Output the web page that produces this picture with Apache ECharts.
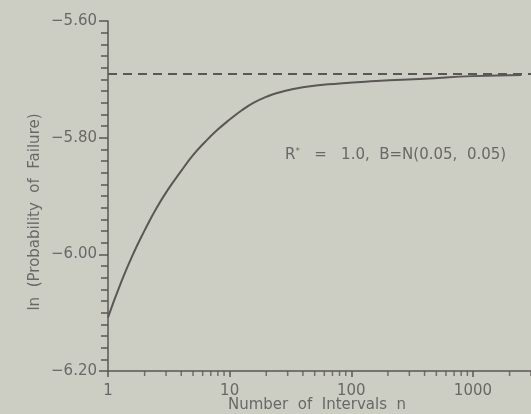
<!DOCTYPE html>
<html>
<head>
<meta charset="utf-8">
<script src="https://cdn.jsdelivr.net/npm/echarts@6/dist/echarts.min.js"></script>
<style>
html,body{margin:0;padding:0;background:#cdcec3;}
#chart{width:531px;height:414px;}
</style>
</head>
<body>
<div id="chart"></div>
<script>
// Data
var nValues = [1, 1.26, 1.58, 2, 2.5, 3.16, 4, 5, 6.3, 7.9, 10, 12.6, 15.8, 20, 25, 40, 80, 160, 400, 1000, 2500];
var lnPf = [-6.108, -6.052, -6.003, -5.959, -5.921, -5.887, -5.857, -5.830, -5.807, -5.787, -5.769, -5.753, -5.740, -5.730, -5.723, -5.7135, -5.707, -5.703, -5.699, -5.6945, -5.6925];
var asymptote = -5.694;
var xMajorTicks = [1, 10, 100, 1000];
var xMinorTicks = [2,3,4,5,6,7,8,9,20,30,40,50,60,70,80,90,200,300,400,500,600,700,800,900,2000,3000];
var xTitle = 'Number  of  Intervals  n';
var yTitle = 'ln  (Probability  of  Failure)';
var annotationRest = '   =   1.0,  B=N(0.05,  0.05)';

var ink = '#5a5754';
var txt = '#6a6866';
var font = 'DejaVu Sans';
var yMin = -6.2, yMax = -5.6;

var chart = echarts.init(document.getElementById('chart'), null, {renderer: 'canvas'});
var seriesData = nValues.map(function (n, i) { return [n, lnPf[i]]; });
var minorTickData = xMinorTicks.map(function (n) { return [n, yMin]; });

chart.setOption({
  backgroundColor: '#cdcec3',
  animation: false,
  grid: {left: 108, right: 0, top: 21, bottom: 43, containLabel: false, outerBoundsMode: 'none'},
  xAxis: {
    type: 'log', logBase: 10, min: 1, max: 3000, position: 'bottom',
    axisLine: {show: true, lineStyle: {color: ink, width: 1.5}},
    axisTick: {show: true, inside: false, length: 6, lineStyle: {color: ink, width: 1.5}, customValues: xMajorTicks},
    axisLabel: {color: txt, fontFamily: font, fontSize: 15, margin: 13, customValues: xMajorTicks,
      formatter: function (v) { return String(Math.round(v)); }},
    splitLine: {show: false}
  },
  yAxis: {
    type: 'value', min: yMin, max: yMax, interval: 0.2,
    axisLine: {show: true, lineStyle: {color: ink, width: 1.5}},
    axisTick: {show: true, length: 9, lineStyle: {color: ink, width: 1.5}},
    minorTick: {show: true, splitNumber: 10, length: 7, lineStyle: {color: ink, width: 1.5}},
    axisLabel: {color: txt, fontFamily: font, fontSize: 15, margin: 11,
      formatter: function (v) { return (v < 0 ? '\u2212' : '') + Math.abs(v).toFixed(2); }},
    splitLine: {show: false}
  },
  series: [{
    type: 'line', data: seriesData, smooth: 0.5, showSymbol: false,
    lineStyle: {color: ink, width: 2},
    markLine: {
      silent: true, symbol: 'none', label: {show: false},
      lineStyle: {color: ink, width: 2, type: [9, 6]},
      data: [{yAxis: asymptote}]
    }
  }, {
    type: 'scatter', data: minorTickData, clip: false, silent: true,
    symbol: 'rect', symbolSize: [1.5, 5], symbolOffset: [0, 2.5],
    itemStyle: {color: ink}
  }],
  graphic: [{
    type: 'text', x: 35, y: 212, rotation: Math.PI / 2,
    style: {text: yTitle, fill: txt, font: '15px "DejaVu Sans"', align: 'center', verticalAlign: 'middle'}
  }, {
    type: 'text', x: 317, y: 405,
    style: {text: xTitle, fill: txt, font: '15px "DejaVu Sans"', align: 'center', verticalAlign: 'middle'}
  }, {
    type: 'text', left: 285, top: 147,
    style: {
      text: '{r|R}{s|*}{r|' + annotationRest + '}',
      rich: {
        r: {fill: txt, fontFamily: font, fontSize: 15},
        s: {fill: txt, fontFamily: font, fontSize: 9, verticalAlign: 'top', padding: [0, 0, 7, 0]}
      }
    }
  }]
});
</script>
</body>
</html>
